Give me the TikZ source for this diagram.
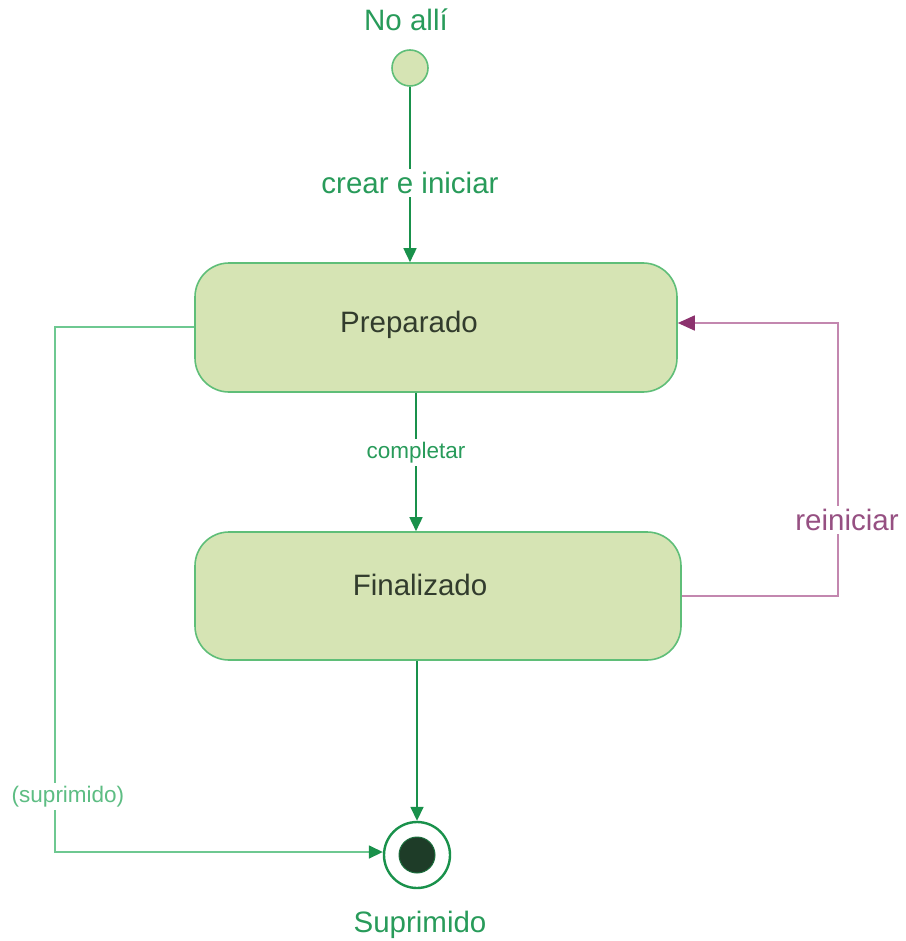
\documentclass[tikz,border=0pt]{standalone}
\usepackage{fontspec}
\setmainfont{Liberation Sans}
\usetikzlibrary{arrows.meta}
\definecolor{txtgreen}{RGB}{40,155,90}
\definecolor{linegreen}{RGB}{25,145,75}
\definecolor{palegreen}{RGB}{110,200,145}
\definecolor{boxfill}{RGB}{214,228,180}
\definecolor{boxline}{RGB}{95,190,120}
\definecolor{boxtext}{RGB}{50,60,45}
\definecolor{purpletxt}{RGB}{150,80,130}
\definecolor{purpleline}{RGB}{195,135,175}
\definecolor{purpletip}{RGB}{140,50,110}
\definecolor{finaldark}{RGB}{30,60,40}
\tikzset{
  big/.style={font=\fontsize{29.5}{32}\selectfont},
  small/.style={font=\fontsize{22.5}{25}\selectfont},
  statebox/.style={draw=boxline, line width=1.6pt, fill=boxfill, rounded corners=34pt,
    inner sep=0pt, big, text=boxtext},
  trans/.style={draw=linegreen, line width=1.6pt,
    -{Triangle[length=14pt,width=13pt]}},
  lbl/.style={fill=white, inner sep=3pt, text=txtgreen},
}
\begin{document}
\begin{tikzpicture}[x=1pt,y=-1pt]
\useasboundingbox (0,0) rectangle (905,941);

% states
\node[big, text=txtgreen] (initlbl) at (406,20) {No allí};
\node[circle, draw=boxline, fill=boxfill, line width=1.6pt, minimum size=36pt, inner sep=0pt] (init) at (410,68) {};
\node[statebox, minimum width=482pt, minimum height=129pt] (prep) at (436,327.5) {};
\node[big, text=boxtext] at (409,325) {Preparado};
\node[statebox, minimum width=486pt, minimum height=128pt] (fin) at (438,596) {};
\node[big, text=boxtext] at (420,585) {Finalizado};
\node[circle, draw=linegreen, fill=white, line width=2.4pt, minimum size=66pt, inner sep=0pt] (final) at (417,855) {};
\node[circle, draw=linegreen!60!finaldark, fill=finaldark, line width=1pt, minimum size=36pt, inner sep=0pt] (finalcore) at (417,855) {};
\node[big, text=txtgreen] (finallbl) at (420,925) {Suprimido};

% corner points of the routed connectors
\coordinate (lt) at (55,327);
\coordinate (lb) at (55,852);
\coordinate (rb) at (838,596);
\coordinate (rt) at (838,323);

% transitions
\draw[trans] (init) -- node[lbl, big, pos=0.55] {crear e iniciar} (init |- prep.north);
\draw[trans] (prep.south -| 416,0) -- node[lbl, small, pos=0.43] {completar} (fin.north -| 416,0);
\draw[trans] (fin.south -| 417,0) -- (final.north);
\draw[draw=palegreen, line width=1.6pt, -{Triangle[length=14pt,width=13pt,color=linegreen]}]
  (prep.west |- lt) -- (lt) -- node[lbl, small, pos=0.895, xshift=13pt, text=palegreen!80!linegreen] {(suprimido)} (lb) -- (final.west |- lb);
\draw[draw=purpleline, line width=1.6pt, -{Triangle[length=17pt,width=15pt,color=purpletip]}]
  (fin.east |- rb) -- (rb) -- node[lbl, big, pos=0.278, xshift=9pt, text=purpletxt] {reiniciar} (rt) -- (prep.east |- rt);
\end{tikzpicture}
\end{document}
